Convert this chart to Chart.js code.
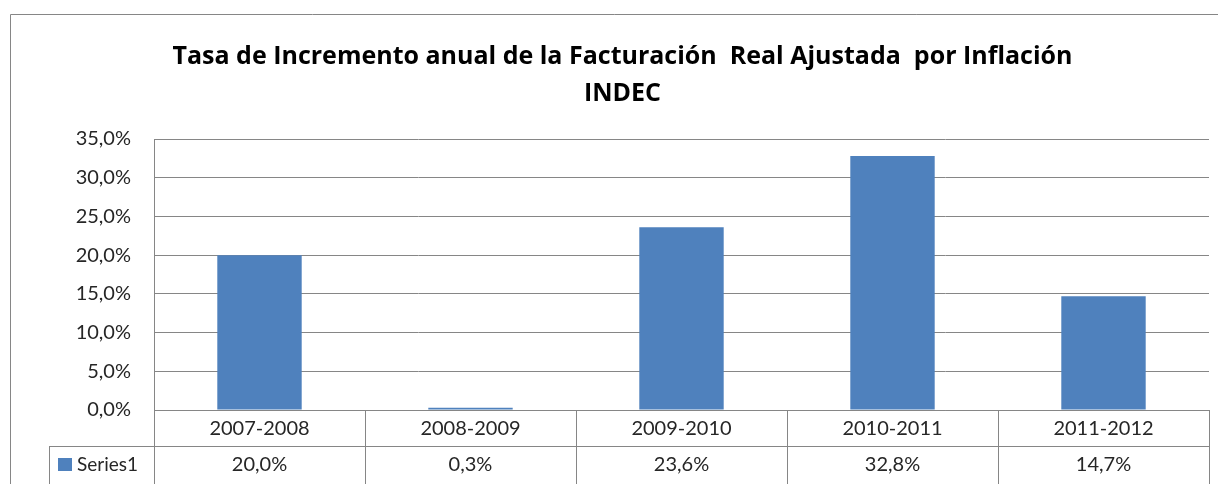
<!DOCTYPE html>
<html>
<head>
<meta charset="utf-8">
<script src="https://cdn.jsdelivr.net/npm/chart.js@4/dist/chart.umd.min.js"></script>
<style>
  html, body { margin: 0; padding: 0; background: #fff; }
  #wrap { width: 1218px; height: 484px; }
</style>
</head>
<body>
<div id="wrap"><canvas id="chart" width="1218" height="484"></canvas></div>
<script>
const periods = ["2007-2008", "2008-2009", "2009-2010", "2010-2011", "2011-2012"];
const growthRates = [20.0, 0.3, 23.6, 32.8, 14.7];
const seriesName = "Series1";
const titleLines = ["Tasa de Incremento anual de la Facturación  Real Ajustada  por Inflación", "INDEC"];

const FONT = "Lato";
const LINE = "#868686";
const BAR = "#4F81BD";
const TEXT = "#262626";

const fmt = v => v.toFixed(1).replace(".", ",") + "%";

// data table under the plot (Excel style)
const dataTable = {
  id: "dataTable",
  afterDraw(chart) {
    const ctx = chart.ctx;
    const x = chart.scales.x;
    const area = chart.chartArea;
    const top = area.bottom;
    const rowH = 36;
    const legendLeft = 49;

    ctx.save();
    ctx.strokeStyle = LINE;
    ctx.lineWidth = 1;

    // outer frame of the chart object
    ctx.beginPath();
    ctx.moveTo(10.5, chart.height);
    ctx.lineTo(10.5, 14.5);
    ctx.lineTo(chart.width, 14.5);
    ctx.stroke();

    ctx.beginPath();
    ctx.moveTo(area.left, top + 0.5);
    ctx.lineTo(area.right, top + 0.5);
    ctx.moveTo(legendLeft, top + rowH + 0.5);
    ctx.lineTo(area.right, top + rowH + 0.5);
    ctx.moveTo(legendLeft + 0.5, top + rowH);
    ctx.lineTo(legendLeft + 0.5, chart.height);
    const step = (area.right - area.left) / periods.length;
    for (let i = 0; i <= periods.length; i++) {
      const cx = Math.round(area.left + i * step) + 0.5;
      ctx.moveTo(cx, top);
      ctx.lineTo(cx, chart.height);
    }
    ctx.stroke();

    ctx.fillStyle = TEXT;
    ctx.font = "20px " + FONT;
    ctx.textAlign = "center";
    ctx.textBaseline = "middle";
    periods.forEach((p, i) => {
      const cx = x.getPixelForValue(i);
      ctx.fillText(p, cx, top + rowH / 2 + 1);
      ctx.fillText(fmt(growthRates[i]), cx, top + rowH + rowH / 2 + 1);
    });

    ctx.fillStyle = BAR;
    ctx.fillRect(58, top + rowH + 12, 14, 13);
    ctx.fillStyle = TEXT;
    ctx.textAlign = "left";
    ctx.font = "19px " + FONT;
    ctx.fillText(seriesName, 77, top + rowH + rowH / 2 + 1);
    ctx.restore();
  }
};

new Chart(document.getElementById("chart"), {
  type: "bar",
  data: {
    labels: periods,
    datasets: [{
      label: seriesName,
      data: growthRates,
      backgroundColor: BAR,
      borderWidth: 0,
      barPercentage: 0.4,
      categoryPercentage: 1
    }]
  },
  options: {
    responsive: false,
    animation: false,
    layout: { padding: { left: 36, right: 9, top: 0, bottom: 0 } },
    plugins: {
      legend: { display: false },
      tooltip: { enabled: false },
      title: {
        display: true,
        text: titleLines,
        color: "#000",
        font: { family: "Open Sans", size: 25, weight: "bold", lineHeight: 1.48 },
        padding: { top: 38, bottom: 27 }
      }
    },
    scales: {
      x: {
        grid: { display: false },
        border: { display: false },
        ticks: { display: false },
        afterFit(scale) { scale.height = 74; }
      },
      y: {
        min: 0,
        max: 35,
        ticks: {
          stepSize: 5,
          padding: 23,
          color: TEXT,
          font: { family: FONT, size: 20 },
          callback: v => fmt(v)
        },
        grid: { color: LINE, drawTicks: false },
        border: { color: LINE },
        afterFit(scale) { scale.width = 118; }
      }
    }
  },
  plugins: [dataTable]
});
</script>
</body>
</html>
